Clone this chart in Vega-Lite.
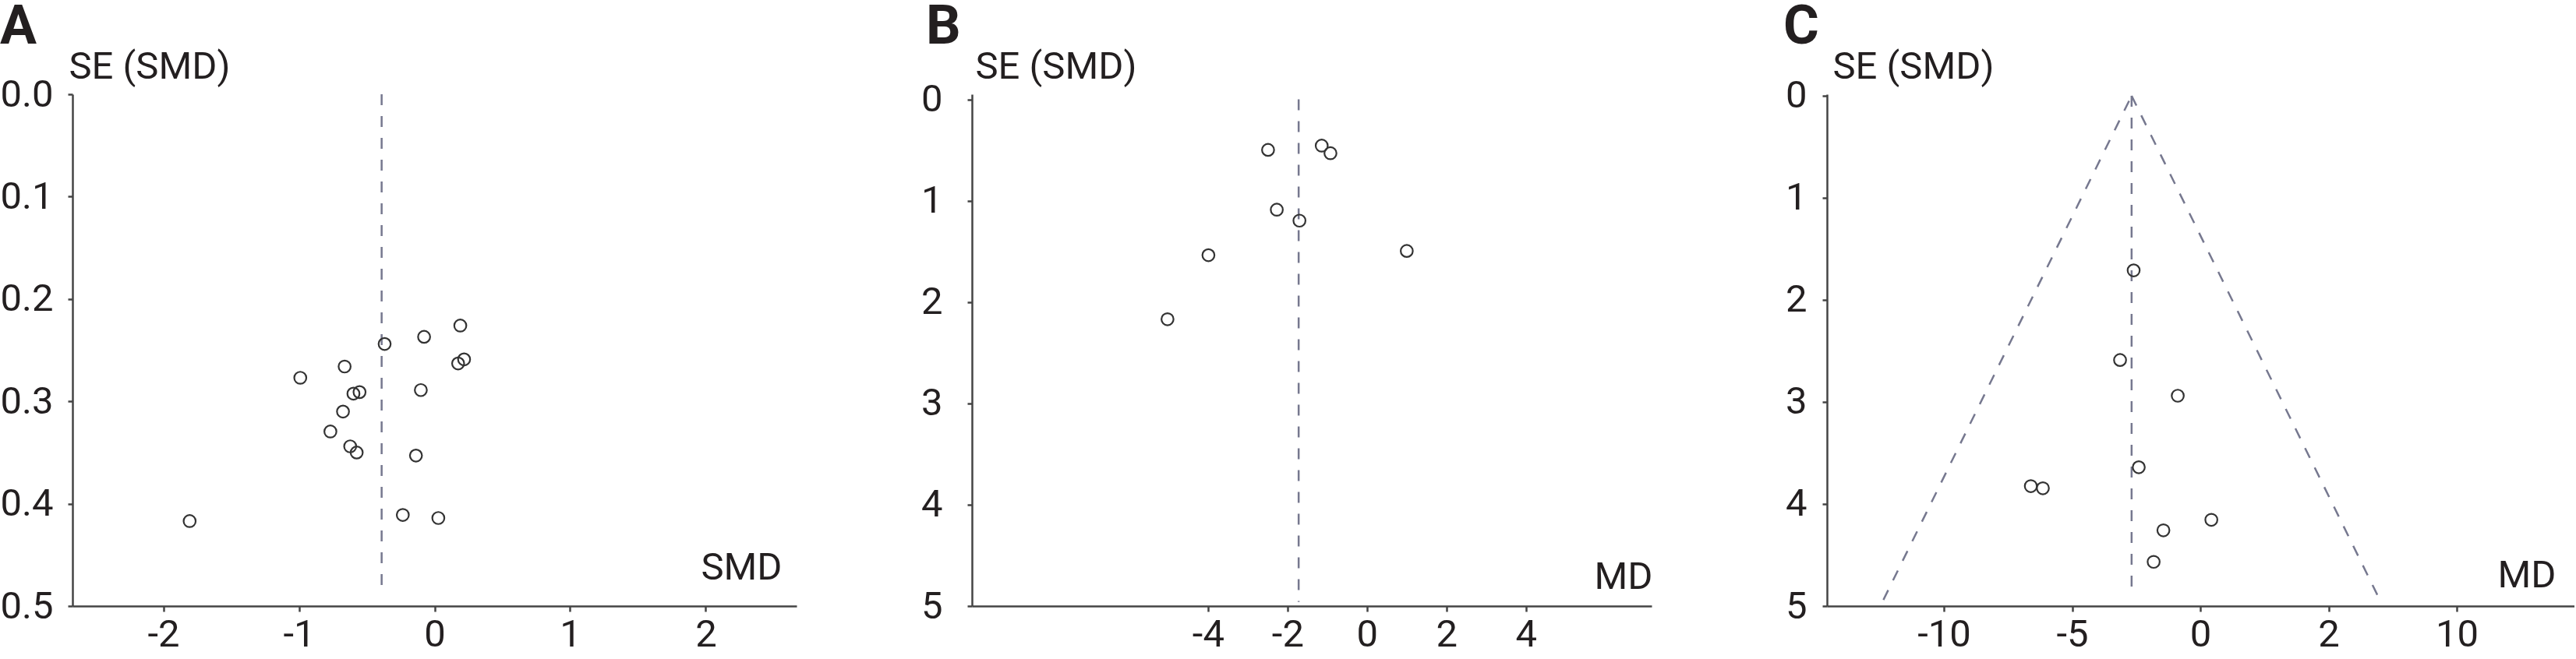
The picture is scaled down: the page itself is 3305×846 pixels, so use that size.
{
  "$schema": "https://vega.github.io/schema/vega-lite/v6.json",
  "background": "white",
  "padding": {"left": 0, "top": 0, "right": 0, "bottom": 0},
  "config": {
    "font": "Roboto",
    "view": {"stroke": null},
    "axis": {
      "domainColor": "#444444", "domainWidth": 2.5,
      "tickColor": "#444444", "tickWidth": 2.5, "tickSize": 7,
      "labelFont": "Roboto", "labelFontSize": 49, "labelColor": "#231f20",
      "titleFont": "Roboto", "titleFontSize": 49, "titleFontWeight": "normal", "titleColor": "#231f20",
      "grid": false, "labelFlush": false, "labelOverlap": false
    },
    "title": {"font": "Roboto", "fontSize": 70, "fontWeight": "bold", "color": "#231f20", "anchor": "start", "frame": "group", "offset": -10}
  },
  "datasets": {
    "a_points": [
      {"smd": -1.806, "se": 0.417}, {"smd": -0.99, "se": 0.277}, {"smd": -0.663, "se": 0.266},
      {"smd": -0.368, "se": 0.244}, {"smd": -0.077, "se": 0.237}, {"smd": 0.19, "se": 0.226},
      {"smd": 0.174, "se": 0.263}, {"smd": 0.218, "se": 0.259}, {"smd": -0.598, "se": 0.2925},
      {"smd": -0.553, "se": 0.291}, {"smd": -0.101, "se": 0.289}, {"smd": -0.675, "se": 0.31},
      {"smd": -0.768, "se": 0.3295}, {"smd": -0.622, "se": 0.344}, {"smd": -0.574, "se": 0.35},
      {"smd": -0.137, "se": 0.353}, {"smd": -0.234, "se": 0.411}, {"smd": 0.028, "se": 0.414}
    ],
    "a_ref": [{"x": -0.39, "y1": 0, "y2": 0.49}],
    "b_points": [
      {"md": -2.49, "se": 0.499}, {"md": -1.14, "se": 0.457}, {"md": -0.92, "se": 0.532},
      {"md": -2.27, "se": 1.089}, {"md": -1.7, "se": 1.197}, {"md": -3.99, "se": 1.538},
      {"md": 1.0, "se": 1.496}, {"md": -5.02, "se": 2.17}
    ],
    "b_ref": [{"x": -1.72, "y1": 0, "y2": 4.96}],
    "c_points": [
      {"md": -2.6, "se": 1.711}, {"md": -3.13, "se": 2.589}, {"md": -0.88, "se": 2.939},
      {"md": -2.4, "se": 3.64}, {"md": -6.61, "se": 3.825}, {"md": -6.14, "se": 3.846},
      {"md": 0.43, "se": 4.155}, {"md": -1.44, "se": 4.258}, {"md": -1.82, "se": 4.567}
    ],
    "c_ref": [{"x": -2.68, "y1": 0, "y2": 4.9}],
    "c_funnel": [
      {"side": "left", "md": -2.68, "se": 0}, {"side": "left", "md": -12.36, "se": 4.94},
      {"side": "right", "md": -2.68, "se": 0}, {"side": "right", "md": 7.0, "se": 4.94}
    ]
  },
  "bounds": "flush",
  "spacing": 225,
  "hconcat": [
    {
      "width": 929, "height": 657,
      "title": {"text": "A", "dx": -93},
      "layer": [
        {
          "data": {"name": "a_ref"},
          "mark": {"type": "rule", "color": "#76788f", "strokeWidth": 2.5, "strokeDash": [14, 14]},
          "encoding": {
            "x": {"field": "x", "type": "quantitative"},
            "y": {"field": "y1", "type": "quantitative"},
            "y2": {"field": "y2"}
          }
        },
        {
          "data": {"name": "a_points"},
          "mark": {"type": "point", "shape": "circle", "filled": false, "stroke": "#333333", "strokeWidth": 2.2, "size": 240, "opacity": 1},
          "encoding": {
            "x": {"field": "smd", "type": "quantitative",
              "scale": {"domain": [-2.67, 2.67], "nice": false, "zero": false},
              "axis": {"values": [-2, -1, 0, 1, 2], "labelExpr": "datum.value + ''", "title": "SMD",
                "titleAngle": 0, "titleAlign": "right", "titleBaseline": "alphabetic", "titleX": 910, "titleY": -35,
                "labelPadding": 5}},
            "y": {"field": "se", "type": "quantitative",
              "scale": {"domain": [0, 0.5], "reverse": true, "nice": false, "zero": false},
              "axis": {"values": [0, 0.1, 0.2, 0.3, 0.4, 0.5], "format": ".1f", "title": "SE (SMD)",
                "titleAngle": 0, "titleAlign": "left", "titleBaseline": "alphabetic", "titleX": -5, "titleY": -21,
                "tickSize": 6, "labelPadding": 19}}
          }
        }
      ]
    },
    {
      "width": 872, "height": 657,
      "title": {"text": "B", "dx": -59},
      "layer": [
        {
          "data": {"name": "b_ref"},
          "mark": {"type": "rule", "color": "#76788f", "strokeWidth": 2.5, "strokeDash": [14, 14]},
          "encoding": {
            "x": {"field": "x", "type": "quantitative"},
            "y": {"field": "y1", "type": "quantitative"},
            "y2": {"field": "y2"}
          }
        },
        {
          "data": {"name": "b_points"},
          "mark": {"type": "point", "shape": "circle", "filled": false, "stroke": "#333333", "strokeWidth": 2.2, "size": 240, "opacity": 1},
          "encoding": {
            "x": {"field": "md", "type": "quantitative",
              "scale": {"domain": [-9.94, 7.16], "nice": false, "zero": false},
              "axis": {"values": [-4, -2, 0, 2, 4], "labelExpr": "datum.value + ''", "title": "MD",
                "titleAngle": 0, "titleAlign": "right", "titleBaseline": "alphabetic", "titleX": 873, "titleY": -23,
                "labelPadding": 5}},
            "y": {"field": "se", "type": "quantitative",
              "scale": {"domain": [-0.05, 5], "reverse": true, "nice": false, "zero": false},
              "axis": {"values": [0, 1, 2, 3, 4, 5], "format": "d", "title": "SE (SMD)",
                "titleAngle": 0, "titleAlign": "left", "titleBaseline": "alphabetic", "titleX": 4, "titleY": -21,
                "tickSize": 6, "labelPadding": 32}}
          }
        }
      ]
    },
    {
      "width": 959, "height": 657,
      "title": {"text": "C", "dx": -56},
      "layer": [
        {
          "data": {"name": "c_funnel"},
          "mark": {"type": "line", "color": "#76788f", "strokeWidth": 2.5, "strokeDash": [14, 14]},
          "encoding": {
            "x": {"field": "md", "type": "quantitative"},
            "y": {"field": "se", "type": "quantitative"},
            "detail": {"field": "side"}
          }
        },
        {
          "data": {"name": "c_ref"},
          "mark": {"type": "rule", "color": "#76788f", "strokeWidth": 2.5, "strokeDash": [14, 14]},
          "encoding": {
            "x": {"field": "x", "type": "quantitative"},
            "y": {"field": "y1", "type": "quantitative"},
            "y2": {"field": "y2"}
          }
        },
        {
          "data": {"name": "c_points"},
          "mark": {"type": "point", "shape": "circle", "filled": false, "stroke": "#333333", "strokeWidth": 2.2, "size": 240, "opacity": 1},
          "encoding": {
            "x": {"field": "md", "type": "quantitative",
              "scale": {"domain": [-14.56, 14.59], "nice": false, "zero": false},
              "axis": {"values": [-10, -5, 0, 5, 10], "labelExpr": "datum.value == 5 ? '2' : datum.value + ''", "title": "MD",
                "titleAngle": 0, "titleAlign": "right", "titleBaseline": "alphabetic", "titleX": 935, "titleY": -25,
                "labelPadding": 5}},
            "y": {"field": "se", "type": "quantitative",
              "scale": {"domain": [-0.015, 5], "reverse": true, "nice": false, "zero": false},
              "axis": {"values": [0, 1, 2, 3, 4, 5], "format": "d", "title": "SE (SMD)",
                "titleAngle": 0, "titleAlign": "left", "titleBaseline": "alphabetic", "titleX": 7, "titleY": -21,
                "tickSize": 6, "labelPadding": 20}}
          }
        }
      ]
    }
  ]
}
